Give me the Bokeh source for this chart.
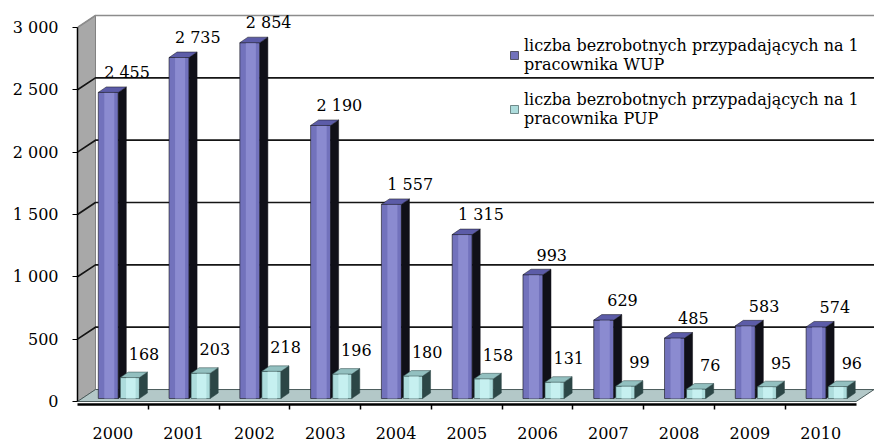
from bokeh.plotting import figure
from bokeh.models import FixedTicker, Range1d, Legend, LegendItem
from bokeh.core.properties import value
from bokeh.embed import file_html
from bokeh.resources import INLINE

# ---- data ----
years = ["2000", "2001", "2002", "2003", "2004", "2005", "2006", "2007", "2008", "2009", "2010"]
wup = [2455, 2735, 2854, 2190, 1557, 1315, 993, 629, 485, 583, 574]
pup = [168, 203, 218, 196, 180, 158, 131, 99, 76, 95, 96]
y_ticks = [0, 500, 1000, 1500, 2000, 2500, 3000]
y_tick_labels = ["0", "500", "1 000", "1 500", "2 000", "2 500", "3 000"]
series_names = [
    "liczba bezrobotnych przypadających na 1\npracownika WUP",
    "liczba bezrobotnych przypadających na 1\npracownika PUP",
]

FONT = "DejaVu Serif"
FS = "16px"

def fmt(v):
    return f"{v:,}".replace(",", " ")

idx = list(range(len(years)))
X0, X1 = -0.5, len(years) - 0.5
XR = 10.76
Y_TOP = y_ticks[-1]

# 3D styling (depth offsets in data units)
DX, DY = 0.254, 96          # wall / floor depth
BDX, BDY = 0.113, 44        # bar depth
BASE = 24                   # bars stand slightly behind floor front edge
WOFF, WW = -0.065, 0.283
POFF, PW = 0.24, 0.27

p = figure(width=874, height=442, x_range=Range1d(X0, XR), y_range=Range1d(-24, 3120),
           output_backend="svg", toolbar_location=None,
           min_border_left=77, min_border_right=0, min_border_top=12, min_border_bottom=38)
p.grid.visible = False
p.outline_line_color = None
p.background_fill_color = "white"

# left wall
p.patch([X0, X0 + DX, X0 + DX, X0], [0, DY, Y_TOP + DY, Y_TOP],
        fill_color="#a8a8a8", line_color="#808080", line_width=1)
# floor
p.patch([X0, X1, X1 + DX, X0 + DX], [0, 0, DY, DY],
        fill_color="#b3c8c8", line_color="#4a5a5a", line_width=1)
# gridlines on back / side wall
grid_t = y_ticks[1:-1]
p.multi_line([[X0, X0 + DX, XR] for t in grid_t], [[t, t + DY, t + DY] for t in grid_t],
             line_color="#151515", line_width=1.7)
# top border of wall
p.multi_line([[X0, X0 + DX, XR]], [[Y_TOP, Y_TOP + DY, Y_TOP + DY]],
             line_color="#8c8c8c", line_width=1.6)

def bar3d(offset, width, vals, front, shine, side, top):
    xs = [i + offset for i in idx]
    tops = [v + BASE for v in vals]
    r = p.vbar(x=xs, width=width, bottom=BASE, top=tops, fill_color=front,
               line_color=side, line_width=0.6)
    # lighter centre band to imitate the shaded cylinder-like face
    p.vbar(x=[x + width * 0.05 for x in xs], width=width * 0.5, bottom=BASE, top=tops,
           fill_color=shine, line_color=None)
    sx = [[x + width / 2, x + width / 2 + BDX, x + width / 2 + BDX, x + width / 2] for x in xs]
    sy = [[BASE, BASE + BDY, t + BDY, t] for t in tops]
    p.patches(sx, sy, fill_color=side, line_color=side, line_width=0.5)
    tx = [[x - width / 2, x + width / 2, x + width / 2 + BDX, x - width / 2 + BDX] for x in xs]
    ty = [[t, t, t + BDY, t + BDY] for t in tops]
    p.patches(tx, ty, fill_color=top, line_color=side, line_width=0.5)
    return r, tops

rw, wt = bar3d(WOFF, WW, wup, "#7272bc", "#8b8bd0", "#101018", "#5c5ca8")
rp, pt = bar3d(POFF, PW, pup, "#addcdc", "#c6f0f0", "#2c4646", "#93c0c0")

# data labels
p.text(x=[i + 0.2 for i in idx], y=wt, text=[fmt(v) for v in wup],
       text_font=value(FONT), text_font_size=FS, text_align="center",
       text_baseline="middle", y_offset=-20, text_color="black")
p.text(x=[i + 0.44 for i in idx], y=pt, text=[fmt(v) for v in pup],
       text_font=value(FONT), text_font_size=FS, text_align="center",
       text_baseline="middle", y_offset=-24, text_color="black")

# axes
p.yaxis.ticker = FixedTicker(ticks=y_ticks)
p.yaxis.major_label_overrides = {t: l for t, l in zip(y_ticks, y_tick_labels)}
p.yaxis.bounds = (0, Y_TOP)
p.yaxis.minor_tick_line_color = None
p.yaxis.major_tick_out = 5
p.yaxis.major_tick_in = 0
p.yaxis.major_label_standoff = 14
p.yaxis.axis_line_width = 1.5
p.yaxis.major_tick_line_color = "black"

p.xaxis.ticker = FixedTicker(ticks=idx, minor_ticks=[i + 0.5 for i in idx[:-1]])
p.xaxis.major_label_overrides = {i: y for i, y in zip(idx, years)}
p.xaxis.bounds = (X0, X1)
p.xaxis.major_tick_line_color = None
p.xaxis.major_tick_out = 0
p.xaxis.major_tick_in = 0
p.xaxis.minor_tick_out = 5
p.xaxis.minor_tick_in = 0
p.xaxis.minor_tick_line_color = "black"
p.xaxis.minor_tick_line_width = 1.5
p.xaxis.major_label_standoff = 17
p.xaxis.axis_line_width = 2.5

for ax in (p.xaxis[0], p.yaxis[0]):
    ax.axis_line_color = "black"
    ax.major_label_text_font = FONT
    ax.major_label_text_font_size = FS
    ax.major_label_text_color = "black"

legend = Legend(items=[LegendItem(label=series_names[0], renderers=[rw]),
                       LegendItem(label=series_names[1], renderers=[rp])],
                location=(432, 276), glyph_width=10, glyph_height=10,
                label_standoff=5, padding=0, spacing=16, margin=0,
                border_line_color=None, background_fill_alpha=0,
                label_text_font=FONT, label_text_font_size=FS,
                label_text_line_height=1.5, label_text_color="black")
p.add_layout(legend)

open("out.html", "w").write(file_html(p, INLINE))
